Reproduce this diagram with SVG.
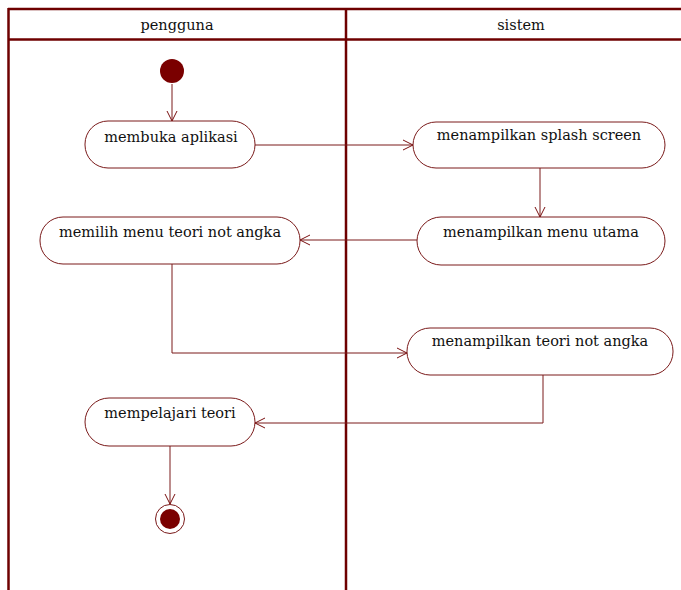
<svg xmlns="http://www.w3.org/2000/svg" width="681" height="590" viewBox="0 0 681 590">
  <defs>
    <marker id="open" viewBox="0 0 12 12" refX="11" refY="6" markerWidth="12" markerHeight="12" markerUnits="userSpaceOnUse" orient="auto">
      <path d="M1,1 L11,6 L1,11" fill="none" stroke="#7a0f0f" stroke-width="1"/>
    </marker>
  </defs>
  <style>
    .lane { stroke: #6e0000; stroke-width: 2.5; fill: none; }
    .act rect { fill: #ffffff; stroke: #7a1a1a; stroke-width: 1; }
    text { font-family: "DejaVu Serif", serif; font-size: 14.5px; fill: #111111; text-anchor: middle; }
    .flow { stroke: #7a1a1a; stroke-width: 1; fill: none; marker-end: url(#open); }
  </style>
  <rect width="681" height="590" fill="#ffffff"/>

  <!-- swimlanes -->
  <g id="lanes">
    <line class="lane" x1="8" y1="9" x2="681" y2="9"/>
    <line class="lane" x1="8" y1="39.5" x2="681" y2="39.5"/>
    <line class="lane" x1="8.5" y1="8" x2="8.5" y2="590"/>
    <line class="lane" x1="346" y1="8" x2="346" y2="590" stroke-width="3"/>
    <text x="177" y="30" font-size="13.5">pengguna</text>
    <text x="521" y="30" font-size="13.5">sistem</text>
  </g>

  <!-- connectors -->
  <g id="connectors">
    <line class="flow" x1="172" y1="84" x2="172" y2="121"/>
    <line class="flow" x1="255" y1="145" x2="413" y2="145"/>
    <line class="flow" x1="540" y1="168" x2="540" y2="217"/>
    <line class="flow" x1="417" y1="240" x2="300" y2="240"/>
    <polyline class="flow" points="172,264 172,353 407,353"/>
    <polyline class="flow" points="543,375 543,423 255,423"/>
    <line class="flow" x1="170" y1="446" x2="170" y2="504"/>
  </g>

  <!-- start -->
  <g id="start">
    <circle cx="172" cy="71" r="12" fill="#7a0000"/>
  </g>

  <g id="membuka" class="act">
    <rect x="85" y="121" width="170" height="47" rx="23" ry="23"/>
    <text x="171" y="142">membuka aplikasi</text>
  </g>

  <g id="splash" class="act">
    <rect x="413" y="122" width="252" height="46" rx="23" ry="23"/>
    <text x="539" y="140">menampilkan splash screen</text>
  </g>

  <g id="menuUtama" class="act">
    <rect x="417" y="217" width="248" height="48" rx="24" ry="24"/>
    <text x="541" y="237">menampilkan menu utama</text>
  </g>

  <g id="memilih" class="act">
    <rect x="40" y="217" width="260" height="47" rx="23" ry="23"/>
    <text x="170" y="237">memilih menu teori not angka</text>
  </g>

  <g id="teori" class="act">
    <rect x="407" y="328" width="266" height="47" rx="23" ry="23"/>
    <text x="540" y="346">menampilkan teori not angka</text>
  </g>

  <g id="mempelajari" class="act">
    <rect x="85" y="398" width="170" height="48" rx="24" ry="24"/>
    <text x="170" y="418">mempelajari teori</text>
  </g>

  <!-- end -->
  <g id="end">
    <circle cx="170" cy="519" r="14.5" fill="#ffffff" stroke="#7a1a1a" stroke-width="1"/>
    <circle cx="170" cy="519" r="10" fill="#7a0000"/>
  </g>
</svg>
